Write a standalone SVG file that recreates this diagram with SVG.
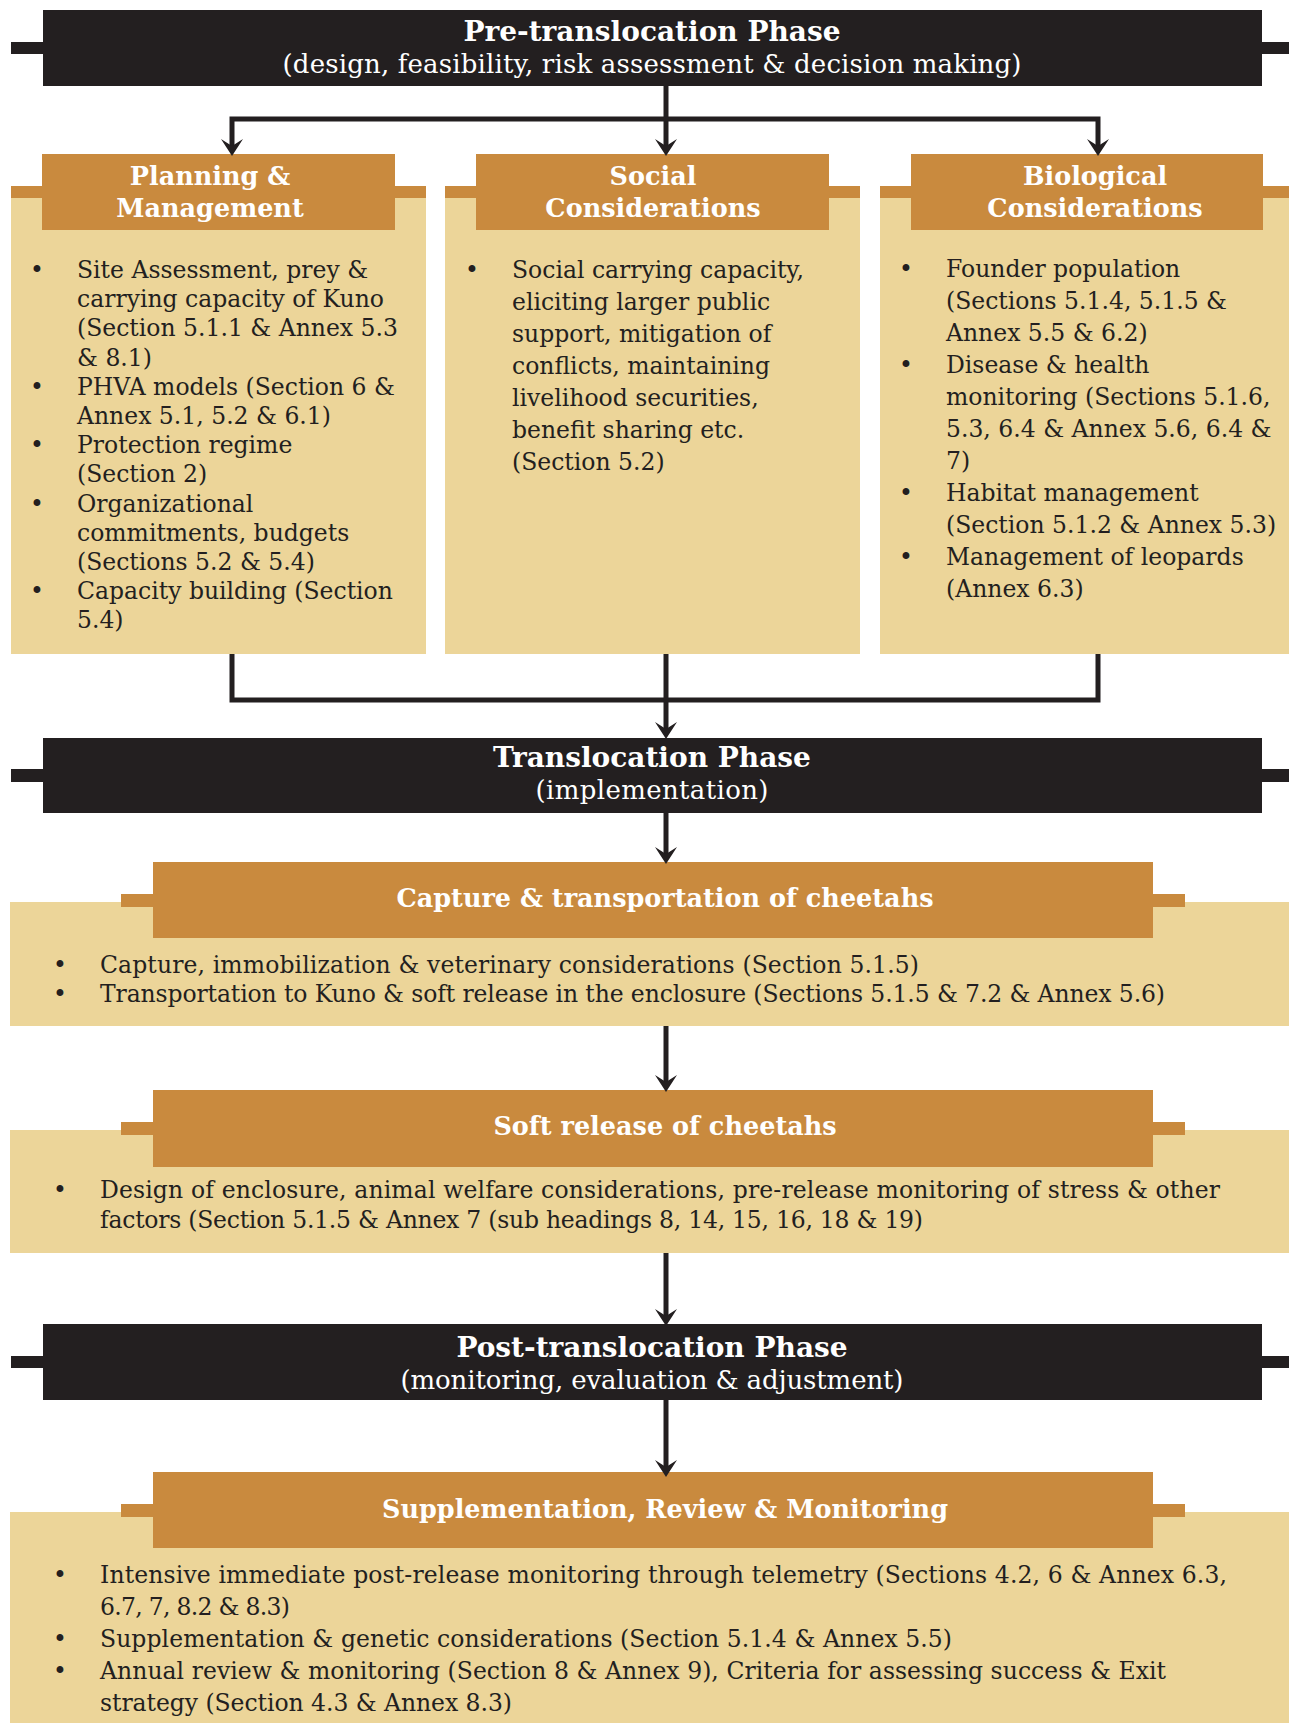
<svg xmlns="http://www.w3.org/2000/svg" width="1289" height="1723" viewBox="0 0 1289 1723">
<defs>
<style>
.phase{fill:#231F20}
.hdr{fill:#C98A3E}
.tan{fill:#ECD599}
.ttl{font-family:"DejaVu Serif",serif;font-weight:bold;font-size:28px;fill:#fff;text-anchor:middle}
.sub{font-family:"DejaVu Serif",serif;font-size:26px;fill:#fff;text-anchor:middle}
.hd{font-family:"DejaVu Serif",serif;font-weight:bold;font-size:25.5px;fill:#fff;text-anchor:middle}
.bd{font-family:"DejaVu Serif",serif;font-size:23.5px;fill:#231F20}
.conn{fill:none;stroke:#231F20;stroke-width:5;stroke-linejoin:miter}
</style>
<marker id="arr" markerUnits="userSpaceOnUse" viewBox="0 0 17 22" refX="9" refY="11" markerWidth="17" markerHeight="22" orient="auto">
<path d="M17,11 L0,0 L7,11 L0,22 Z" fill="#231F20"/>
</marker>
</defs>
<rect width="1289" height="1723" fill="#fff"/>

<g id="pre-translocation">
<rect class="phase" x="11" y="42" width="1278" height="12"/>
<rect class="phase" x="43" y="10" width="1219" height="76"/>
<text class="ttl" x="652" y="41">Pre-translocation Phase</text>
<text class="sub" x="652" y="73" textLength="739">(design, feasibility, risk assessment &amp; decision making)</text>
</g>

<g id="planning">
<rect class="tan" x="11" y="186" width="415" height="468"/>
<rect class="hdr" x="11" y="186" width="415" height="12"/>
<rect class="hdr" x="42" y="154" width="353" height="76"/>
<text class="hd"><tspan x="210" y="185">Planning &amp;</tspan><tspan x="210" y="217">Management</tspan></text>
<text class="bd"><tspan x="30" y="278">•</tspan><tspan x="30" y="394.8">•</tspan><tspan x="30" y="453.2">•</tspan><tspan x="30" y="511.6">•</tspan><tspan x="30" y="599.2">•</tspan></text>
<text class="bd">
<tspan x="77" y="278">Site Assessment, prey &amp;</tspan>
<tspan x="77" y="307.2">carrying capacity of Kuno</tspan>
<tspan x="77" y="336.4">(Section 5.1.1 &amp; Annex 5.3</tspan>
<tspan x="77" y="365.6">&amp; 8.1)</tspan>
<tspan x="77" y="394.8">PHVA models (Section 6 &amp;</tspan>
<tspan x="77" y="424">Annex 5.1, 5.2 &amp; 6.1)</tspan>
<tspan x="77" y="453.2">Protection regime</tspan>
<tspan x="77" y="482.4">(Section 2)</tspan>
<tspan x="77" y="511.6">Organizational</tspan>
<tspan x="77" y="540.8">commitments, budgets</tspan>
<tspan x="77" y="570">(Sections 5.2 &amp; 5.4)</tspan>
<tspan x="77" y="599.2">Capacity building (Section</tspan>
<tspan x="77" y="628.4">5.4)</tspan>
</text>
</g>

<g id="social">
<rect class="tan" x="445" y="186" width="415" height="468"/>
<rect class="hdr" x="445" y="186" width="415" height="12"/>
<rect class="hdr" x="476" y="154" width="353" height="76"/>
<text class="hd"><tspan x="653" y="185">Social</tspan><tspan x="653" y="217">Considerations</tspan></text>
<text class="bd"><tspan x="465" y="278">•</tspan></text>
<text class="bd">
<tspan x="512" y="278">Social carrying capacity,</tspan>
<tspan x="512" y="310">eliciting larger public</tspan>
<tspan x="512" y="342">support, mitigation of</tspan>
<tspan x="512" y="374">conflicts, maintaining</tspan>
<tspan x="512" y="405.5">livelihood securities,</tspan>
<tspan x="512" y="437.5">benefit sharing etc.</tspan>
<tspan x="512" y="469.5">(Section 5.2)</tspan>
</text>
</g>

<g id="biological">
<rect class="tan" x="880" y="186" width="409" height="468"/>
<rect class="hdr" x="880" y="186" width="409" height="12"/>
<rect class="hdr" x="911" y="154" width="352" height="76"/>
<text class="hd"><tspan x="1095" y="185">Biological</tspan><tspan x="1095" y="217">Considerations</tspan></text>
<text class="bd"><tspan x="899" y="277">•</tspan><tspan x="899" y="373">•</tspan><tspan x="899" y="501">•</tspan><tspan x="899" y="565">•</tspan></text>
<text class="bd">
<tspan x="946" y="277">Founder population</tspan>
<tspan x="946" y="309">(Sections 5.1.4, 5.1.5 &amp;</tspan>
<tspan x="946" y="341">Annex 5.5 &amp; 6.2)</tspan>
<tspan x="946" y="373">Disease &amp; health</tspan>
<tspan x="946" y="405">monitoring (Sections 5.1.6,</tspan>
<tspan x="946" y="437">5.3, 6.4 &amp; Annex 5.6, 6.4 &amp;</tspan>
<tspan x="946" y="469">7)</tspan>
<tspan x="946" y="501">Habitat management</tspan>
<tspan x="946" y="533">(Section 5.1.2 &amp; Annex 5.3)</tspan>
<tspan x="946" y="565">Management of leopards</tspan>
<tspan x="946" y="597">(Annex 6.3)</tspan>
</text>
</g>

<g id="translocation">
<rect class="phase" x="11" y="769" width="1278" height="13"/>
<rect class="phase" x="43" y="738" width="1219" height="75"/>
<text class="ttl" x="652" y="767">Translocation Phase</text>
<text class="sub" x="652" y="799" textLength="233">(implementation)</text>
</g>

<g id="capture">
<rect class="tan" x="10" y="902" width="1279" height="124"/>
<rect class="hdr" x="121" y="894" width="1064" height="13"/>
<rect class="hdr" x="153" y="862" width="1000" height="76"/>
<text class="hd" x="665" y="907">Capture &amp; transportation of cheetahs</text>
<text class="bd"><tspan x="53" y="973">•</tspan><tspan x="53" y="1002">•</tspan></text>
<text class="bd" x="100" y="973" textLength="819">Capture, immobilization &amp; veterinary considerations (Section 5.1.5)</text>
<text class="bd" x="100" y="1002" textLength="1065">Transportation to Kuno &amp; soft release in the enclosure (Sections 5.1.5 &amp; 7.2 &amp; Annex 5.6)</text>
</g>

<g id="soft-release">
<rect class="tan" x="10" y="1130" width="1279" height="123"/>
<rect class="hdr" x="121" y="1122" width="1064" height="13"/>
<rect class="hdr" x="153" y="1090" width="1000" height="77"/>
<text class="hd" x="665" y="1135">Soft release of cheetahs</text>
<text class="bd"><tspan x="53" y="1198">•</tspan></text>
<text class="bd" x="100" y="1198" textLength="1120">Design of enclosure, animal welfare considerations, pre-release monitoring of stress &amp; other</text>
<text class="bd" x="100" y="1228" textLength="823">factors (Section 5.1.5 &amp; Annex 7 (sub headings 8, 14, 15, 16, 18 &amp; 19)</text>
</g>

<g id="post-translocation">
<rect class="phase" x="11" y="1356" width="1278" height="12"/>
<rect class="phase" x="43" y="1324" width="1219" height="76"/>
<text class="ttl" x="652" y="1357">Post-translocation Phase</text>
<text class="sub" x="652" y="1389" textLength="503">(monitoring, evaluation &amp; adjustment)</text>
</g>

<g id="supplementation">
<rect class="tan" x="10" y="1512" width="1279" height="211"/>
<rect class="hdr" x="121" y="1504" width="1064" height="13"/>
<rect class="hdr" x="153" y="1472" width="1000" height="76"/>
<text class="hd" x="665" y="1518">Supplementation, Review &amp; Monitoring</text>
<text class="bd"><tspan x="53" y="1583">•</tspan><tspan x="53" y="1647">•</tspan><tspan x="53" y="1679">•</tspan></text>
<text class="bd" x="100" y="1583" textLength="1127">Intensive immediate post-release monitoring through telemetry (Sections 4.2, 6 &amp; Annex 6.3,</text>
<text class="bd" x="100" y="1615" textLength="190">6.7, 7, 8.2 &amp; 8.3)</text>
<text class="bd" x="100" y="1647" textLength="852">Supplementation &amp; genetic considerations (Section 5.1.4 &amp; Annex 5.5)</text>
<text class="bd" x="100" y="1679" textLength="1066">Annual review &amp; monitoring (Section 8 &amp; Annex 9), Criteria for assessing success &amp; Exit</text>
<text class="bd" x="100" y="1711" textLength="412">strategy (Section 4.3 &amp; Annex 8.3)</text>
</g>

<g id="connectors">
<path class="conn" d="M666,86 V148" marker-end="url(#arr)"/>
<path class="conn" d="M666,119 H232 V148" marker-end="url(#arr)"/>
<path class="conn" d="M666,119 H1098 V148" marker-end="url(#arr)"/>
<path class="conn" d="M232,654 V700 H1098 V654"/>
<path class="conn" d="M666,654 V731" marker-end="url(#arr)"/>
<path class="conn" d="M666,813 V856" marker-end="url(#arr)"/>
<path class="conn" d="M666,1026 V1084" marker-end="url(#arr)"/>
<path class="conn" d="M666,1253 V1318" marker-end="url(#arr)"/>
<path class="conn" d="M666,1400 V1469" marker-end="url(#arr)"/>
</g>
</svg>
